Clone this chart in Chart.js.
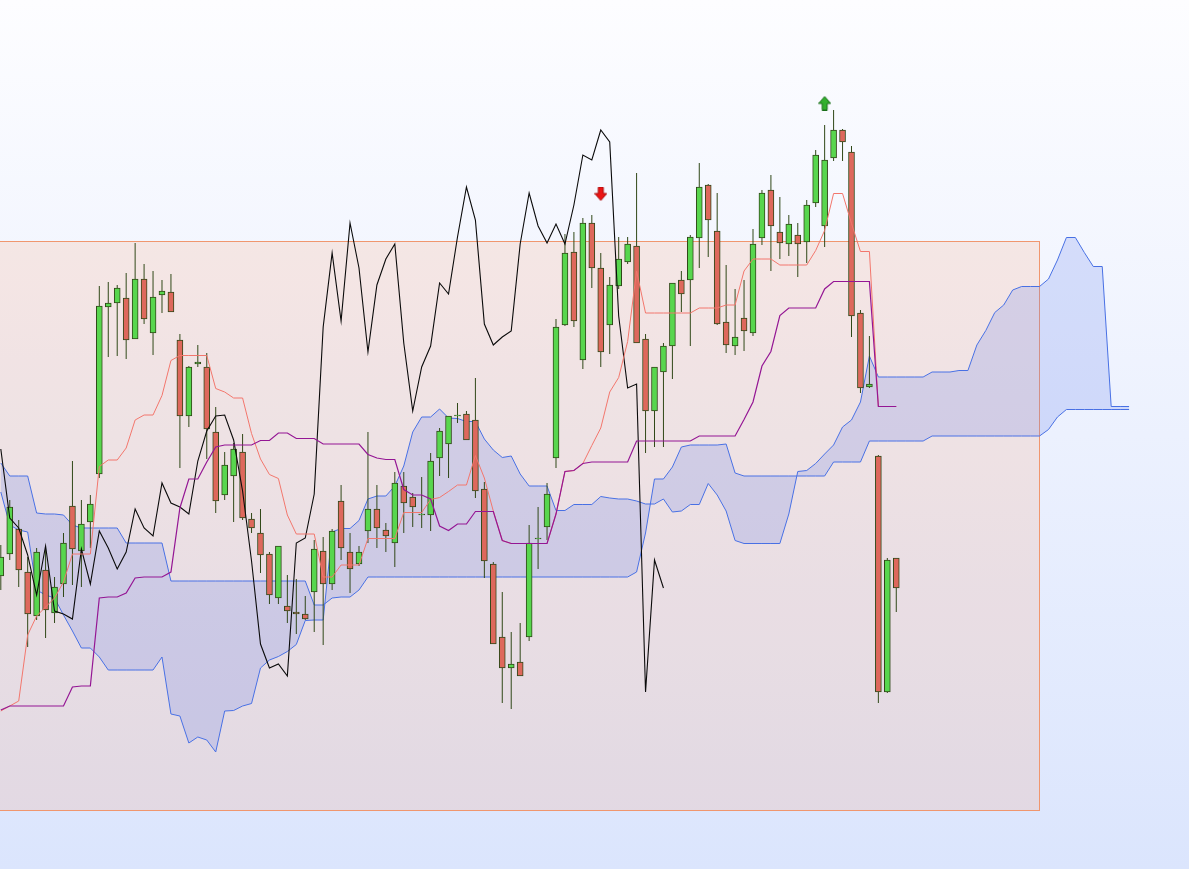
<!DOCTYPE html>
<html>
<head>
<meta charset="utf-8">
<script src="https://cdn.jsdelivr.net/npm/chart.js@4.4.1/dist/chart.umd.min.js"></script>
<style>
  html, body {
    margin: 0;
    padding: 0;
    width: 1189px;
    height: 869px;
    overflow: hidden;
    background: linear-gradient(to bottom, #fdfdff 0%, #dbe5fd 100%);
  }
  #ichimoku { display: block; }
</style>
</head>
<body>
<canvas id="ichimoku" width="1189" height="869"></canvas>
<script>
// --- Price data (one value per bar, bar index 0..100) ---
const OPEN = [
  424, 446, 471, 428, 384, 430, 387, 416, 494, 449,
  478, 526, 693, 697, 702, 661, 721, 667, 705, 708,
  660, 584, 636, 633, 568, 505, 524, 548, 481, 467,
  446, 402, 394, 388, 386, 408, 449, 416, 499, 448,
  436, 469, 491, 470, 457, 514, 503, 485, 485, 542,
  556, 584, 586, 580, 511, 436, 363, 332, 338, 363,
  461, 473, 542, 675, 748, 640, 777, 732, 675, 714,
  738, 754, 661, 589, 628, 654, 720, 720, 762, 815,
  769, 678, 654, 682, 667, 762, 810, 768, 756, 765,
  758, 797, 774, 842, 870, 848, 687, 613, 544, 308,
  442,
];
const HIGH = [
  455, 500, 480, 443, 452, 450, 423, 467, 539, 500,
  505, 714, 718, 715, 727, 757, 736, 729, 720, 726,
  666, 634, 655, 647, 593, 548, 557, 566, 487, 491,
  448, 454, 425, 421, 404, 460, 463, 471, 515, 467,
  454, 568, 515, 477, 528, 528, 507, 523, 547, 572,
  584, 597, 589, 622, 518, 438, 408, 368, 377, 475,
  493, 517, 681, 766, 768, 782, 785, 747, 723, 763,
  763, 827, 666, 633, 657, 717, 729, 765, 837, 816,
  807, 735, 711, 720, 771, 810, 825, 803, 785, 777,
  800, 850, 875, 890, 871, 854, 690, 664, 545, 442,
  442,
];
const LOW = [
  410, 440, 413, 353, 380, 362, 377, 403, 415, 413,
  452, 522, 643, 644, 641, 661, 676, 645, 687, 688,
  532, 573, 633, 541, 487, 500, 478, 480, 467, 427,
  396, 396, 377, 366, 380, 368, 355, 410, 440, 407,
  434, 457, 452, 448, 433, 467, 473, 472, 469, 524,
  522, 577, 560, 502, 422, 356, 297, 291, 324, 359,
  431, 460, 532, 674, 673, 631, 712, 633, 646, 711,
  736, 657, 547, 553, 553, 621, 688, 654, 732, 743,
  675, 647, 645, 649, 664, 755, 729, 741, 744, 723,
  737, 793, 753, 839, 839, 663, 607, 612, 297, 307,
  388,
];
const CLOSE = [
  443, 493, 430, 386, 448, 390, 413, 457, 451, 476,
  496, 694, 697, 712, 660, 721, 681, 703, 709, 688,
  584, 633, 638, 571, 499, 535, 551, 482, 472, 445,
  405, 454, 389, 386, 381, 451, 416, 469, 452, 431,
  448, 491, 472, 464, 517, 497, 493, 486, 539, 569,
  584, 585, 560, 509, 439, 356, 332, 336, 324, 457,
  462, 506, 673, 747, 679, 777, 732, 648, 715, 741,
  756, 657, 589, 633, 654, 717, 706, 763, 813, 780,
  676, 655, 663, 669, 756, 807, 774, 757, 776, 756,
  795, 845, 840, 870, 858, 684, 612, 616, 308, 440,
  412,
];

// --- Ichimoku lines ---
const TENKAN = [
  289, 294, 299, 365, 384, 393, 402, 418, 446, 446,
  446, 533.5, 540, 540, 552, 580, 585, 585, 604.5, 639.5,
  644.5, 644.5, 644.5, 644.5, 611.5, 608, 602, 602, 566.5, 541,
  525.5, 521.5, 485, 466, 466, 466, 423, 423, 435, 435,
  435, 461.5, 461.5, 461.5, 461.5, 487.5, 487.5, 487.5, 500.5, 502.5,
  508.5, 515, 515, 544.5, 522, 489, 459.5, 456.5, 456.5, 456.5,
  456.5, 456.5, 486, 528.5, 529.5, 536.5, 554.5, 572, 608, 622.5,
  658.5, 729, 687, 687, 687, 687, 687, 687, 692, 692,
  692, 695, 695, 729, 741, 741, 741, 735, 735, 735,
  735, 749.5, 769.5, 806.5, 806.5, 776.5, 748.5, 748.5, 593.5, 593.5,
  593.5,
];
const KIJUN = [
  290, 294, 294, 294, 294, 294, 294, 294, 313, 314,
  314, 402, 403, 403, 407, 422, 423, 423, 423, 428,
  492, 521, 521, 538, 553, 555, 555, 555, 555, 559.5,
  559.5, 567, 567, 561.5, 561.5, 561.5, 556, 556, 556, 556,
  556, 545.5, 542, 540.5, 540.5, 510.5, 505, 505, 501, 474,
  469.5, 476, 476, 488.5, 488.5, 488.5, 459.5, 456.5, 456.5, 456.5,
  456.5, 456.5, 486, 528.5, 529.5, 536.5, 538, 538, 538, 538,
  538, 559, 559, 559, 559, 559, 559, 559, 564, 564,
  564, 564, 564, 580.5, 598, 634, 648.5, 684.5, 692, 692,
  692, 692, 711, 718.5, 718.5, 718.5, 718.5, 718.5, 593.5, 593.5,
  593.5,
];
// lagging span, starts at bar 0
const CHIKOU = [
  551, 482, 472, 445, 405, 454, 389, 386, 381, 451,
  416, 469, 452, 431, 448, 491, 472, 464, 517, 497,
  493, 486, 539, 569, 584, 585, 560, 509, 439, 356,
  332, 336, 324, 457, 462, 506, 673, 747, 679, 777,
  732, 648, 715, 741, 756, 657, 589, 633, 654, 717,
  706, 763, 813, 780, 676, 655, 663, 669, 756, 807,
  774, 757, 776, 756, 795, 845, 840, 870, 858, 684,
  612, 616, 308, 440, 412,
];
// leading spans, bar index 0..126
const SENKOU_A = [
  508, 475, 470, 468, 410, 405, 402, 385, 369, 352,
  352, 343, 330, 330, 330, 330, 330, 330, 343, 286,
  284, 257, 263, 260, 248, 289, 289.5, 294, 296.5, 332,
  340, 343.5, 348.5, 355.5, 379.5, 380, 380, 468, 471.5, 471.5,
  479.5, 501, 504, 504, 514, 534, 568, 583, 583, 591,
  582, 581.5, 578.5, 578.5, 561, 550, 542.5, 544, 526, 514,
  514, 514, 489.5, 489.5, 495.5, 495.5, 495.5, 503.5, 502, 501,
  501, 499, 496, 496, 501, 488, 489, 495.5, 495.5, 516.5,
  505, 489, 459.5, 456.5, 456.5, 456.5, 456.5, 456.5, 486, 528.5,
  529.5, 536.5, 546, 555, 573, 580, 598, 644, 623, 623,
  623, 623, 623, 623, 628, 628, 628, 629.5, 629.5, 655,
  669.5, 687.5, 695, 710, 713.5, 713.5, 713.5, 721, 740, 762.5,
  762.5, 747.5, 733.5, 733.5, 593.5, 593.5, 593.5,
];
const SENKOU_B = [
  537, 524, 524, 524, 487, 486, 486, 485, 475, 472,
  472, 472, 472, 472, 457, 457, 457, 457, 457, 419,
  419, 419, 419, 419, 419, 419, 419, 419, 419, 419,
  419, 419, 419, 419, 419, 395, 395, 402, 403, 403,
  410, 423, 423, 423, 423, 423, 423, 423, 423, 423,
  423, 423, 423, 423, 423, 423, 423, 423, 423, 423,
  423, 423, 423, 423, 423, 423, 423, 423, 423, 423,
  423, 428, 467, 521, 521, 533, 553, 555, 555, 555,
  555, 556, 527, 524, 524, 524, 524, 524, 524, 524,
  524, 524, 524, 538, 538, 538, 538, 559, 559, 559,
  559, 559, 559, 559, 564, 564, 564, 564, 564, 564,
  564, 564, 564, 564, 564, 564, 564, 570.5, 583, 590.5,
  590.5, 590.5, 590.5, 590.5, 590.5, 590.5, 590.5,
];

// signal markers: [bar, price]
const SELL_SIGNALS = [[67, 806]];
const BUY_SIGNALS = [[92, 897]];

// highlighted range
const ZONE_START = -2;
const ZONE_END = 116;
const ZONE_HIGH = 759;
const ZONE_LOW = 190;

// --- Styling ---
const COLORS = {
  UP: "rgb(88, 214, 78)",
  DOWN: "rgb(222, 104, 92)",
  CANDLE_EDGE: "rgb(48, 72, 24)",
  TENKAN: "rgb(242, 118, 108)",
  KIJUN: "rgb(148, 22, 148)",
  CHIKOU: "rgb(10, 10, 10)",
  SENKOU: "rgb(72, 112, 228)",
  CLOUD: "rgba(90, 120, 235, 0.2)",
  ZONE_FILL: "rgba(255, 140, 80, 0.15)",
  ZONE_EDGE: "rgb(240, 150, 110)",
};

function toPoints(values) {
  return values.map((v, i) => ({ x: i, y: v }));
}

function arrowImage(fill, edge, up) {
  const c = document.createElement("canvas");
  c.width = 13;
  c.height = 15;
  const g = c.getContext("2d");
  const pts = [[4, 0.5], [9, 0.5], [9, 7], [12.5, 7], [6.5, 14], [0.5, 7], [4, 7]];
  g.beginPath();
  pts.forEach(([px, py], k) => {
    const yy = up ? 15 - py : py;
    if (k === 0) g.moveTo(px, yy);
    else g.lineTo(px, yy);
  });
  g.closePath();
  g.fillStyle = fill;
  g.fill();
  g.strokeStyle = edge;
  g.lineWidth = 1;
  g.stroke();
  return c;
}

const zonePlugin = {
  id: "zone",
  beforeDatasetsDraw(chart) {
    const { ctx } = chart;
    const x = chart.scales.x;
    const y = chart.scales.y;
    const left = x.getPixelForValue(ZONE_START);
    const right = Math.round(x.getPixelForValue(ZONE_END) - 0.5) + 0.5;
    const top = Math.round(y.getPixelForValue(ZONE_HIGH)) + 0.5;
    const bottom = Math.round(y.getPixelForValue(ZONE_LOW)) + 0.5;
    ctx.save();
    ctx.fillStyle = COLORS.ZONE_FILL;
    ctx.fillRect(left, top, right - left, bottom - top);
    ctx.strokeStyle = COLORS.ZONE_EDGE;
    ctx.lineWidth = 1;
    ctx.strokeRect(left, top, right - left, bottom - top);
    ctx.restore();
  },
};

function lineSet(label, values, color, width, order) {
  return {
    type: "line",
    label: label,
    data: toPoints(values),
    borderColor: color,
    borderWidth: width,
    pointRadius: 0,
    tension: 0,
    fill: false,
    order: order,
  };
}

function init() {
  const bodyColors = OPEN.map((o, i) => (CLOSE[i] >= o ? COLORS.UP : COLORS.DOWN));

  const cloudA = lineSet("Senkou A", SENKOU_A, COLORS.SENKOU, 1, 6);
  const cloudB = lineSet("Senkou B", SENKOU_B, COLORS.SENKOU, 1, 7);
  cloudB.fill = "-1";
  cloudB.backgroundColor = COLORS.CLOUD;

  const datasets = [
    lineSet("Kijun", KIJUN, COLORS.KIJUN, 1.2, 0),
    lineSet("Tenkan", TENKAN, COLORS.TENKAN, 1, 1),
    lineSet("Chikou", CHIKOU, COLORS.CHIKOU, 1.1, 2),
    {
      type: "bar",
      label: "Body",
      data: OPEN.map((o, i) => ({ x: i, y: [o, CLOSE[i]] })),
      backgroundColor: bodyColors,
      borderColor: COLORS.CANDLE_EDGE,
      borderWidth: 1,
      borderSkipped: false,
      barThickness: 6,
      grouped: false,
      order: 3,
    },
    {
      type: "bar",
      label: "Wick",
      data: LOW.map((l, i) => ({ x: i, y: [l, HIGH[i]] })),
      backgroundColor: COLORS.CANDLE_EDGE,
      borderWidth: 0,
      inflateAmount: 0,
      barThickness: 1,
      grouped: false,
      order: 4,
    },
    cloudA,
    cloudB,
    {
      type: "scatter",
      label: "Sell",
      data: SELL_SIGNALS.map(([b, p]) => ({ x: b, y: p })),
      pointStyle: arrowImage("rgb(235, 20, 20)", "rgb(170, 10, 10)", false),
      order: 0,
    },
    {
      type: "scatter",
      label: "Buy",
      data: BUY_SIGNALS.map(([b, p]) => ({ x: b, y: p })),
      pointStyle: arrowImage("rgb(50, 175, 45)", "rgb(25, 110, 25)", true),
      order: 0,
    },
  ];

  new Chart(document.getElementById("ichimoku"), {
    type: "line",
    data: { datasets: datasets },
    options: {
      responsive: false,
      animation: false,
      events: [],
      layout: { padding: 0, autoPadding: false },
      scales: {
        x: { type: "linear", min: -0.09, max: 132.69, offset: false, display: false },
        y: { type: "linear", min: 131, max: 1000, display: false },
      },
      plugins: {
        legend: { display: false },
        tooltip: { enabled: false },
      },
    },
    plugins: [zonePlugin],
  });
}

init();
</script>
</body>
</html>
